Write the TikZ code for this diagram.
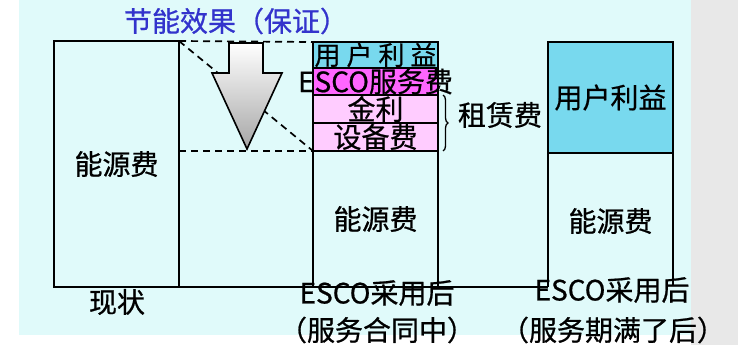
\documentclass[tikz,border=0pt]{standalone}
\usepackage{fontspec}
\setmainfont{Noto Sans CJK SC}[UprightFeatures={FakeBold=0.7}]
\usetikzlibrary{decorations.pathreplacing,calc}
\definecolor{bgc}{RGB}{224,250,250}
\definecolor{userc}{RGB}{120,217,238}
\definecolor{escoc}{RGB}{255,102,255}
\definecolor{pinkc}{RGB}{255,204,255}
\definecolor{titlec}{RGB}{51,51,204}
\definecolor{grayc}{RGB}{232,232,232}
\begin{document}
\begin{tikzpicture}[x=1pt,y=-1pt,
  box/.style={draw=black,line width=1.6pt,inner sep=0pt,outer sep=0pt,anchor=north west,minimum width=125pt},
  lbl/.style={font=\fontsize{28}{28}\selectfont,inner sep=0pt,text=black},
  dline/.style={dash pattern=on 7pt off 5pt,line width=1.7pt},
  edge/.style={line width=1.6pt}]
\useasboundingbox (0,0) rectangle (738,345);
\fill[white] (0,0) rectangle (738,345);
\fill[bgc] (19,0) rectangle (691,335);
\fill[grayc] (691,0) rectangle (738,345);

% boxes
\node[box,minimum height=246pt] (b1) at (54,41) {};
\node[box,fill=userc,minimum height=26pt] (u2) at (313,42) {};
\node[box,fill=escoc,minimum height=27pt] (e2) at (313,68) {};
\node[box,fill=pinkc,minimum height=28pt] (j2) at (313,95) {};
\node[box,fill=pinkc,minimum height=28pt] (s2) at (313,123) {};
\node[box,minimum height=136pt] (n2) at (313,151) {};
\node[box,fill=userc,minimum height=111pt] (u3) at (548,42) {};
\node[inner sep=0pt,outer sep=0pt,anchor=north west,minimum width=125pt,minimum height=132pt] (n3) at (548,153) {};
\draw[edge] (n3.north west) -- ($(n3.south west)+(0,2)$);
\draw[edge] (n3.north east) -- (n3.south east);
\draw[edge] (b1.south west) -- ($(n3.south west)+(0,2)$);

% dashed guides
\draw[dline] (b1.north east) -- (u2.north west);
\draw[dline] (b1.east |- s2.south) -- (s2.south west);
\draw[dline] (b1.north east) -- (s2.south west);

% arrow
\draw[line width=1.6pt,line join=miter,top color=white,bottom color=black!35]
  (229,43) -- (263,43) -- (263,73) -- (282,73) -- (247,149) -- (212,73) -- (229,73) -- cycle;

% brace
\draw[line width=1.3pt,decorate,decoration={brace,amplitude=5pt}]
  ($(j2.north east)+(5,0)$) -- ($(s2.south east)+(5,0)$);

% labels
\node[lbl,text=titlec] (title) at (236,21) {节能效果（保证）};
\node[lbl] at (b1) {能源费};
\node[lbl,font=\fontsize{26}{26}\selectfont] at (u2) {\makebox[122pt][s]{用\hfill 户\hfill 利\hfill 益}};
\node[lbl] at (e2) {ESCO服务费};
\node[lbl] at (j2) {金利};
\node[lbl] at (s2) {设备费};
\node[lbl] at (n2) {能源费};
\node[lbl] at (u3) {用户利益};
\node[lbl] at ($(n3.center)+(0,2)$) {能源费};
\node[lbl] (zl) at (500,115) {租赁费};
\node[lbl] at (117,302) {现状};
\node[lbl] at (377,293) {ESCO采用后};
\node[lbl] at (377,330) {（服务合同中）};
\node[lbl] at (612,290) {ESCO采用后};
\node[lbl] at (613,330) {（服务期满了后）};
\end{tikzpicture}
\end{document}
